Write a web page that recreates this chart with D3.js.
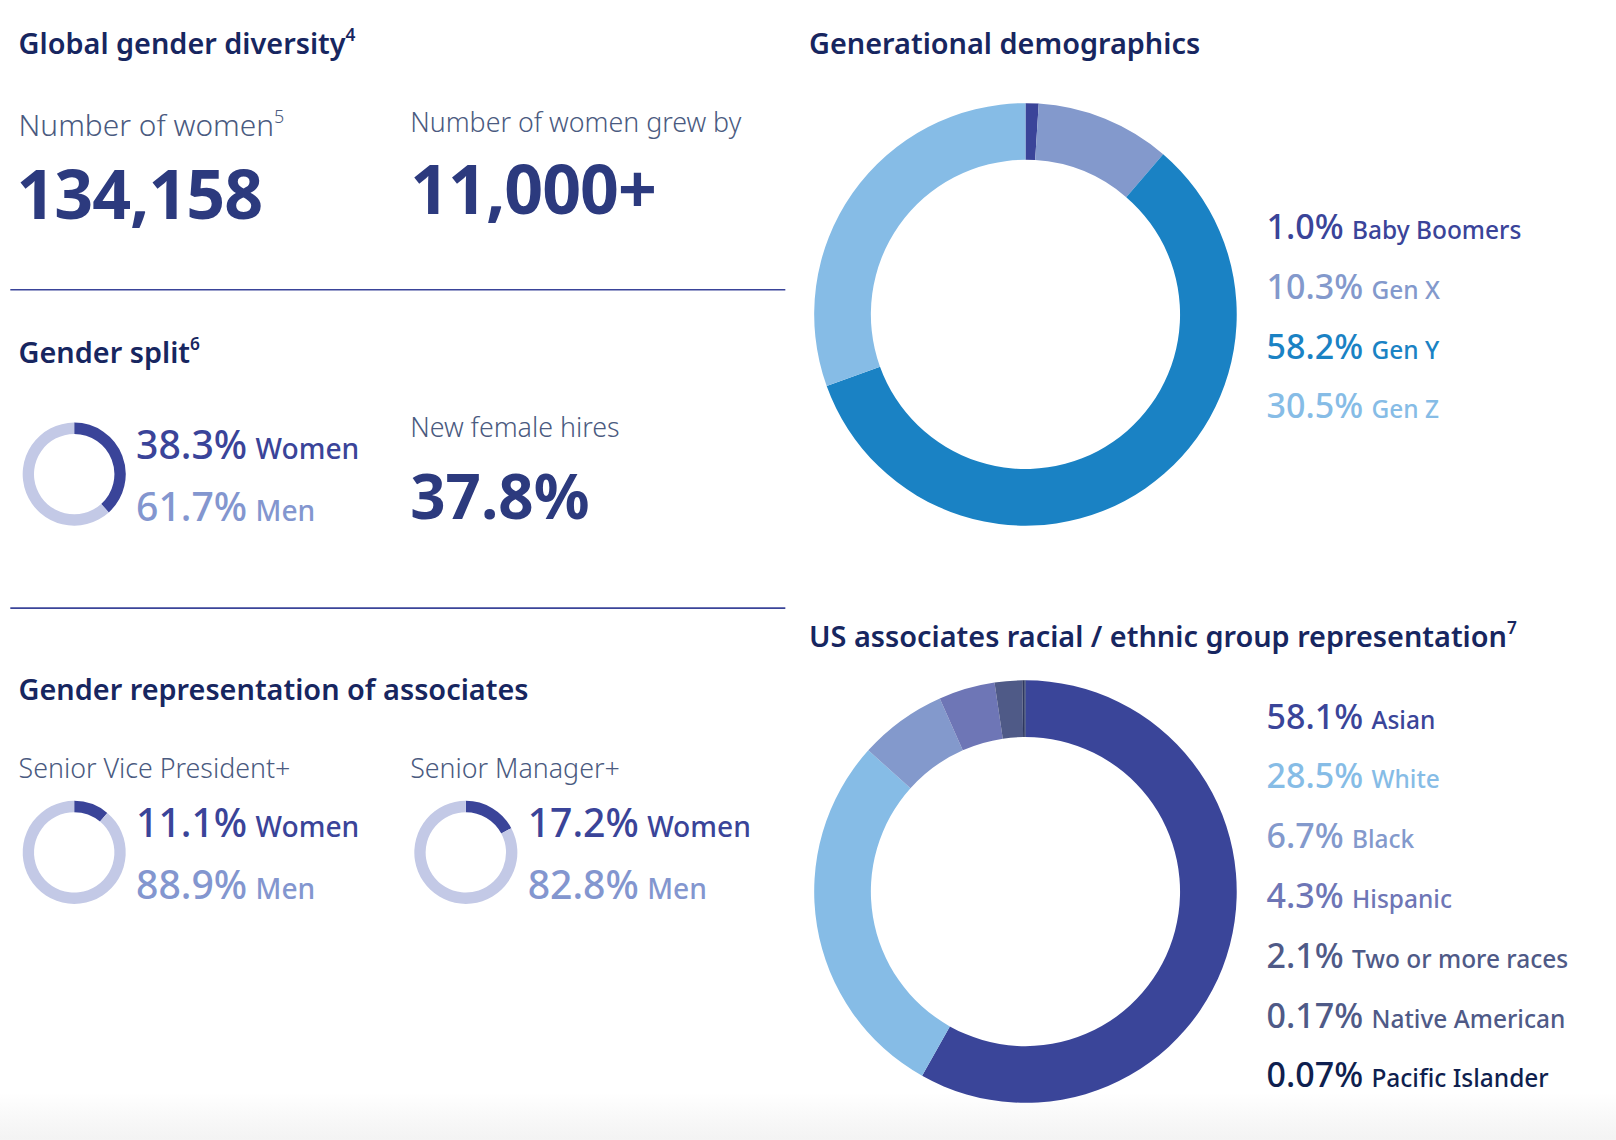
<!DOCTYPE html>
<html><head><meta charset="utf-8">
<script src="https://cdn.jsdelivr.net/npm/d3@7"></script>
<style>body{margin:0;background:#fff}svg{display:block}</style>
</head><body>
<script>
window.onload = function() {
  var navy = "#172660", dark = "#3a4499", light = "#c3c9e6", mid = "#8396cf";

  var svg = d3.select("body").append("svg")
    .attr("width", 1616).attr("height", 1140)
    .attr("viewBox", "0 0 1568 1106")
    .style("font-family", "'Noto Sans', sans-serif");

  var grad = svg.append("defs").append("linearGradient").attr("id", "bg")
    .attr("x1", 0).attr("x2", 0).attr("y1", 0).attr("y2", 1);
  grad.append("stop").attr("offset", "0").attr("stop-color", "#fff");
  grad.append("stop").attr("offset", "1").attr("stop-color", "#f3f3f3");
  svg.append("rect").attr("x", 0).attr("y", 1060).attr("width", 1568).attr("height", 46).attr("fill", "url(#bg)");

  function txt(x, y, s, size, color, weight, sup) {
    var t = svg.append("text").attr("x", x).attr("y", y)
      .attr("font-size", size).attr("fill", color).attr("font-weight", weight || 400).text(s);
    if (sup) t.append("tspan").attr("font-size", size * 0.6).attr("dy", -size * 0.45).text(sup);
    return t;
  }
  function pair(x, y, big, small, size, color) {
    var t = svg.append("text").attr("x", x).attr("y", y).attr("fill", color).attr("font-weight", 500);
    t.append("tspan").attr("font-size", size).text(big);
    t.append("tspan").attr("font-size", size * 0.72).attr("dx", 8).text(small);
  }

  // left column
  txt(18, 52, "Global gender diversity", 28, navy, 600, "4");
  txt(18, 132, "Number of women", 29, "#4a5a80", 300, "5");
  txt(398, 128, "Number of women grew by", 26, "#4a5a80", 300);
  txt(16, 212, "134,158", 66, "#2c3a7e", 700).attr("letter-spacing", -1);
  txt(398, 208, "11,000+", 66, "#2c3a7e", 700).attr("letter-spacing", -1);
  svg.append("line").attr("x1", 10).attr("x2", 762).attr("y1", 281).attr("y2", 281).attr("stroke", "#3a4499").attr("stroke-width", 1.5);
  txt(18, 352, "Gender split", 28, navy, 600, "6");
  txt(398, 424, "New female hires", 26, "#4a5a80", 300);
  txt(398, 504, "37.8%", 60, "#2c3a7e", 700);
  svg.append("line").attr("x1", 10).attr("x2", 762).attr("y1", 590).attr("y2", 590).attr("stroke", "#3a4499").attr("stroke-width", 1.5);
  txt(18, 679, "Gender representation of associates", 28, navy, 600);
  txt(18, 755, "Senior Vice President+", 26, "#4a5a80", 300);
  txt(398, 755, "Senior Manager+", 26, "#4a5a80", 300);

  var small = [
    {cx: 72, cy: 460, w: 38.3, tx: 132, ty: 445},
    {cx: 72, cy: 827, w: 11.1, tx: 132, ty: 812},
    {cx: 452, cy: 827, w: 17.2, tx: 512, ty: 812}
  ];
  var pie = d3.pie().sort(null).value(function(d) { return d.v; });
  var arcS = d3.arc().innerRadius(39).outerRadius(50);
  small.forEach(function(s) {
    var data = [{v: s.w, c: dark}, {v: 100 - s.w, c: light}];
    svg.append("g").attr("transform", "translate(" + s.cx + "," + s.cy + ")")
      .selectAll("path").data(pie(data)).enter().append("path")
      .attr("d", arcS).attr("fill", function(d) { return d.data.c; });
    pair(s.tx, s.ty, s.w.toFixed(1) + "%", "Women", 38, dark);
    pair(s.tx, s.ty + 60, (100 - s.w).toFixed(1) + "%", "Men", 38, mid);
  });

  // right column
  var arcB = d3.arc().innerRadius(150).outerRadius(205);
  function donut(cx, cy, data, lx, ly, step) {
    svg.append("g").attr("transform", "translate(" + cx + "," + cy + ")")
      .selectAll("path").data(pie(data)).enter().append("path")
      .attr("d", arcB).attr("fill", function(d) { return d.data.c; });
    data.forEach(function(d, i) {
      pair(lx, ly + i * step, d.label, d.name, 33, d.t || d.c);
    });
  }

  txt(785, 52, "Generational demographics", 28, navy, 600);
  var gen = [
    {name: "Baby Boomers", label: "1.0%", v: 1.0, c: "#3a4499"},
    {name: "Gen X", label: "10.3%", v: 10.3, c: "#8399cc"},
    {name: "Gen Y", label: "58.2%", v: 58.2, c: "#1a82c4"},
    {name: "Gen Z", label: "30.5%", v: 30.5, c: "#86bce6"}
  ];
  donut(995, 305, gen, 1229, 232, 58);

  txt(785, 628, "US associates racial / ethnic group representation", 28, navy, 600, "7");
  var race = [
    {name: "Asian", label: "58.1%", v: 58.1, c: "#3a4599"},
    {name: "White", label: "28.5%", v: 28.5, c: "#86bce6"},
    {name: "Black", label: "6.7%", v: 6.7, c: "#8399cc"},
    {name: "Hispanic", label: "4.3%", v: 4.3, c: "#6e76b6"},
    {name: "Two or more races", label: "2.1%", v: 2.1, c: "#4f5a87"},
    {name: "Native American", label: "0.17%", v: 0.17, c: "#2d3760", t: "#4f5a87"},
    {name: "Pacific Islander", label: "0.07%", v: 0.07, c: "#0f1f4f"}
  ];
  donut(995, 865, race, 1229, 707, 58);
}
</script>
</body></html>
